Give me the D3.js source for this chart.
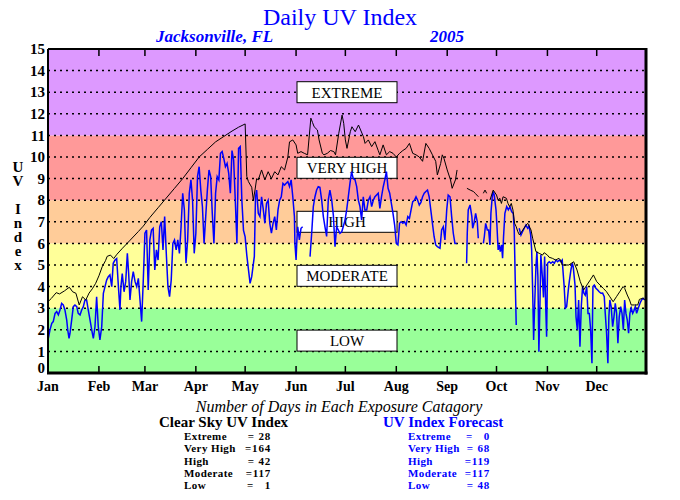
<!DOCTYPE html>
<html>
<head>
<meta charset="utf-8">
<script src="https://cdn.jsdelivr.net/npm/d3@7"></script>
<style>
  body { margin: 0; background: #fff; }
  text { font-family: "Liberation Serif", "Times New Roman", serif; }
</style>
</head>
<body>
<div id="chart"></div>
<script>
// --- data ---
const months = ["Jan", "Feb", "Mar", "Apr", "May", "Jun", "Jul", "Aug", "Sep", "Oct", "Nov", "Dec"];
const monthStart = [0, 31, 59, 90, 120, 151, 181, 212, 243, 273, 304, 334];

const bandLimits = [0, 3, 6, 8, 11, 15];
const bandNames = ["LOW", "MODERATE", "HIGH", "VERY HIGH", "EXTREME"];

const countNames = ["Extreme", "Very High", "High", "Moderate", "Low"];
const clearCounts = ["= 28", "=164", "= 42", "=117", "=   1"];
const forecastCounts = ["=   0", "= 68", "=119", "=117", "= 48"];

// [day of year, UV]; null breaks the line
const clearSky = [
  [0,3.3],[2,3.45],[5,3.72],[7,3.66],[10,3.8],[13,3.97],[15,3.76],[17,3.69],[19,3.15],[21,3.53],
  [23,3.38],[25,3.7],[27,3.9],[29,4.15],[31,4.5],[33,4.92],[35,5.2],[36,5.4],[38,5.46],[40,5.3],
  [42,5.5],[45,5.75],[50,6.15],[55,6.55],[58,6.8],[62,7.2],[67,7.65],[72,8.1],[77,8.55],[82,9.0],
  [87,9.5],[92,10.0],[97,10.35],[102,10.7],[107,10.95],[112,11.2],[116,11.38],[120,11.53],
  [121,9.1],[122,8.86],[124,8.6],[125,8.0],[126,8.47],[127,9.0],[128,8.94],[130,9.4],[132,8.94],
  [134,9.32],[136,9.0],[138,9.32],[140,9.17],[142,9.55],[144,9.4],[146,10.0],[147,10.7],[149,10.79],
  [151,10.56],[152,10.17],[154,10.25],[156,10.17],[158,10.1],[160,11.8],[161,11.6],[162,11.4],
  [164,11.25],[165,10.79],[167,10.17],[168,10.1],[170,10.17],[172,10.3],[174,10.25],[175,10.1],
  [177,11.1],[179,11.94],[180,11.56],[181,10.79],[182,10.4],[184,11.17],[185,11.4],[187,11.17],
  [189,11.48],[192,10.94],[193,10.63],[195,10.79],[197,10.48],[199,10.71],[201,10.3],[202,10.1],
  [204,10.56],[206,10.1],[208,10.25],[210,10.17],[212,10.0],[214,10.17],[216,10.3],[218,10.4],
  [220,10.63],[222,10.17],[224,10.1],[226,10.0],[228,9.8],[230,10.63],[232,10.4],[234,10.1],
  [236,9.8],[237,9.17],[239,9.7],[240,10.1],[241,9.94],[243,9.4],[245,8.94],[246,8.55],[248,8.94],
  [249,9.4],[250,null],
  [255,8.55],[257,8.47],[259,8.4],[260,8.32],[262,8.16],[263,null],
  [265,8.32],[266,8.47],[267,8.32],[268,null],
  [269,8.0],[271,8.47],[273,8.24],[274,8.0],[275,8.09],[276,7.85],[277,8.16],[279,8.09],[280,7.85],
  [281,7.7],[282,7.85],[283,7.55],[284,6.93],[285,6.77],[286,6.54],[287,6.39],[289,6.62],[291,6.85],
  [292,6.93],[294,6.62],[295,6.24],[296,5.93],[297,5.62],[299,5.54],[301,5.46],[302,5.57],[304,5.46],
  [305,5.36],[307,5.31],[309,5.23],[311,5.31],[312,5.23],[313,5.0],[315,5.0],[317,5.0],[320,5.15],
  [322,4.77],[324,4.23],[326,3.84],[328,4.07],[330,4.3],[332,4.54],[334,4.23],[336,4.07],[338,3.92],
  [340,3.76],[342,3.53],[344,3.3],[346,3.53],[348,3.76],[350,4.0],[351,3.92],[352.6,3.61],[354,3.38],
  [355,3.15],[357,3.15],[359,3.15],[360,3.41],[362,3.46],[363,3.41]
];

const forecast = [
  [0.2,1.6],[1.2,2.0],[2.3,2.3],[3.2,2.38],[4.3,2.76],[5.3,2.84],[6.3,2.69],[7.3,2.92],[8.3,3.22],
  [9.3,3.15],[10.3,2.92],[11.4,2.45],[12,2.0],[12.8,1.6],[13.4,1.84],[14.4,2.45],[15.4,3.07],
  [16.4,3.15],[17.5,3.07],[18.4,2.76],[19.5,2.69],[20.5,2.92],[21.5,3.07],[22.5,3.38],[23.5,3.38],
  [24.5,2.92],[25.6,2.45],[26.6,2.0],[27.6,1.6],[28.6,2.14],[29.6,3.53],[30.6,2.14],[31.6,1.53],
  [32.7,2.14],[33.7,3.69],[34.7,4.0],[35.7,4.3],[36.7,4.46],[37.7,4.54],[38.8,4.0],[39.7,5.08],
  [40.8,5.23],[41.8,5.3],[42.8,4.07],[43.8,2.92],[44.4,4.0],[45.2,4.6],[46.3,3.76],[47.3,4.23],
  [48.3,5.54],[49.1,4.6],[49.9,3.38],[50.9,4.23],[51.9,4.69],[53,4.23],[54,4.0],[55,4.38],[56,3.38],
  [57,2.38],[58,4.3],[59,6.47],[60,6.62],[61,3.84],[62,6.16],[63,6.62],[64,6.7],[65,4.77],[66,5.7],
  [67,5.23],[68,6.77],[69,7.0],[70,5.7],[71,7.24],[72,5.54],[73,4.0],[74,3.53],[75,4.3],[76,6.0],
  [77,6.16],[78,5.7],[79,6.16],[80,5.54],[81,6.77],[82,8.32],[83,7.55],[84,5.08],[85,6.16],[86,8.32],
  [87,8.94],[88,8.0],[89,5.54],[90,6.47],[91,9.09],[92,9.55],[93,8.47],[94,7.7],[95,6.0],[96,7.24],
  [97,8.47],[98,9.4],[99,9.09],[100,7.39],[101,6.0],[102,8.32],[103,9.09],[104,8.94],[105,10.17],
  [106,10.25],[107,9.94],[108,9.55],[109,9.7],[110,9.24],[111,8.32],[112,10.3],[113,9.86],[114,8.0],
  [115,6.0],[116,10.4],[117,10.48],[118,8.0],[119,6.6],[120,6.3],[121,5.46],[123,4.15],[124,4.46],
  [125.6,5.4],[126.3,8.16],[127,8.47],[128,7.39],[129,7.24],[130,8.16],[131,7.6],[132,6.93],
  [133,7.85],[134,8.0],[135,6.93],[136,6.47],[137,6.93],[138,7.24],[139,6.62],[140,7.55],[141,8.0],
  [142,8.16],[143,8.78],[144,8.7],[145,8.78],[146,8.86],[147,8.63],[148,8.94],[149,8.16],[150,7.24],
  [150.3,6.0],[151,5.23],[151.5,6.16],[152,6.77],[153,6.16],[154,6.7],[155,6.77],[156,null],
  [159.5,5.39],[160.5,6.47],[161.5,7.7],[162.5,8.16],[163.5,8.47],[164.5,8.63],[165.5,8.6],
  [166.6,8.0],[167.6,7.24],[168.6,6.77],[169.6,6.32],[170.6,8.0],[171.6,8.47],[172.7,8.0],[173.7,7.3],
  [174.7,5.85],[175.7,6.77],[176.7,6.62],[177.7,6.47],[178.8,6.54],[179.7,6.77],[180.8,7.08],
  [181.8,7.55],[182.8,8.16],[183.8,8.78],[184.8,9.32],[185.8,9.0],[186.9,8.94],[187.9,8.63],
  [188.9,8.0],[189.9,7.7],[190.9,7.08],[191.9,8.16],[192.9,7.55],[194,7.55],[195,8.0],[196,8.16],
  [197,7.7],[198,8.0],[199,8.16],[200,8.24],[201,8.32],[202,7.62],[203,8.16],[204,8.6],[205,8.94],
  [206,9.32],[207,8.55],[208,8.32],[209,7.85],[210,7.39],[211,6.85],[212,6.0],[213,5.93],[214,6.93],
  [215,7.0],[216,6.93],[217,7.0],[218,6.85],[219,7.24],[220,7.16],[221,7.55],[222,7.93],[223,8.0],
  [224,8.16],[225,8.0],[226,7.78],[227,7.9],[228,8.16],[229,8.32],[230,8.4],[231,8.47],[232,8.16],
  [233,7.55],[234,6.93],[235,6.32],[236,5.93],[237,5.85],[238.6,5.78],[239.6,6.62],[240.6,6.77],
  [241.6,6.16],[242.7,7.55],[243.6,8.24],[244.7,8.16],[245.7,7.24],[246.7,6.47],[247.7,6.0],
  [248.7,6.0],[250,null],
  [254.8,5.08],[255.2,6.47],[255.8,7.55],[256.9,7.78],[258,7.24],[258.5,6.7],[259.3,6.93],
  [260.3,7.39],[261.3,7.0],[261.9,6.24],[263,null],
  [265,6.0],[265.6,6.32],[266.4,6.93],[267.4,6.62],[268.2,6.62],[269,5.93],[269.6,7.39],[270.4,8.16],
  [271,8.4],[271.6,8.24],[272.7,7.55],[273.3,6.77],[274,5.7],[274.7,5.93],[275.3,5.62],[276.1,5.93],
  [276.7,5.31],[277.3,6.32],[278.1,7.39],[279.2,7.7],[280.2,7.55],[281.2,7.7],[282.2,7.47],
  [283.2,7.39],[283.8,6.62],[284.4,4.3],[285,2.22],[286,null],
  [286.8,6.7],[287.9,6.39],[288.9,6.55],[289.9,6.7],[290.9,6.85],[292,6.7],[292.8,6.8],[293.8,6.39],
  [294.4,5.7],[295,3.84],[295.6,1.53],[296.2,3.07],[297,4.92],[297.6,5.62],[298.2,4.46],[298.8,0.99],
  [299.5,3.38],[300,5.46],[300.9,4.46],[301.6,3.5],[302.3,5.39],[302.9,3.22],[303.5,1.68],
  [304.1,5.08],[305.1,5.15],[306.1,5.08],[307.2,5.15],[308.2,5.08],[309.2,5.23],[310.2,5.15],
  [311.2,5.23],[312.2,5.15],[313,5.23],[313.6,4.6],[314.2,4.0],[314.9,3.0],[315.7,3.07],[316.7,3.84],
  [317.3,4.23],[318.3,4.77],[319.1,5.08],[319.7,4.92],[320.8,4.07],[321.4,2.6],[322.2,2.0],[323,3.38],
  [323.8,1.22],[324.6,3.07],[325.4,4.0],[326.2,3.69],[327,3.6],[327.9,4.0],[328.7,2.76],[329.5,2.76],
  [330.3,2.0],[331.1,0.45],[331.7,4.0],[332.5,4.07],[333.5,3.92],[334.6,3.84],[335.5,3.76],
  [336.6,3.69],[337.6,3.7],[338.6,3.53],[339.2,2.76],[340,1.84],[340.8,0.45],[341.4,2.6],[342,3.38],
  [342.8,3.07],[343.7,2.14],[344.5,2.6],[345.3,3.22],[346.1,2.76],[346.9,1.38],[347.7,2.6],
  [348.6,3.07],[349.4,2.76],[350.2,2.0],[351,3.38],[351.8,2.76],[352.6,2.45],[353.4,1.84],
  [354.2,2.76],[355,3.0],[355.9,2.76],[356.7,2.9],[357.5,3.07],[358.3,2.76],[359.3,3.0],[360.3,3.22],
  [361.3,3.38],[362.3,3.46],[363.3,3.38]
];

// --- layout ---
const width = 680, height = 500;
const plotLeft = 48, plotRight = 646, plotTop = 49, plotBottom = 373;
const bandColors = ["#99ff99", "#ffff99", "#ffcc99", "#ff9999", "#dd99ff"];
const blue = "#0000ff";

const x = d3.scaleLinear().domain([0, 364]).range([plotLeft, plotRight]);
const y = d3.scaleLinear().domain([0, 15]).range([plotBottom, plotTop]);

const svg = d3.select("#chart")
    .append("svg")
    .attr("width", width)
    .attr("height", height);

// --- exposure bands ---
svg.selectAll(".band")
    .data(bandNames)
    .enter()
    .append("rect")
    .attr("class", "band")
    .attr("x", plotLeft)
    .attr("width", plotRight - plotLeft)
    .attr("y", (d, i) => y(bandLimits[i + 1]))
    .attr("height", (d, i) => y(bandLimits[i]) - y(bandLimits[i + 1]))
    .attr("fill", (d, i) => bandColors[i]);

// dotted grid
svg.selectAll(".grid")
    .data(d3.range(1, 15))
    .enter()
    .append("line")
    .attr("x1", plotLeft)
    .attr("x2", plotRight)
    .attr("y1", d => y(d))
    .attr("y2", d => y(d))
    .attr("stroke", "#000")
    .attr("stroke-width", 1.5)
    .attr("stroke-dasharray", "2,4");

// category boxes
const boxW = 100, boxH = 21;
const boxes = svg.selectAll(".box")
    .data(bandNames)
    .enter()
    .append("g")
    .attr("transform", (d, i) => `translate(${x(182)},${y((bandLimits[i] + bandLimits[i + 1]) / 2)})`);

boxes.append("rect")
    .attr("x", -boxW / 2)
    .attr("y", -boxH / 2)
    .attr("width", boxW)
    .attr("height", boxH)
    .attr("fill", "#fff")
    .attr("stroke", "#000");

boxes.append("text")
    .attr("text-anchor", "middle")
    .attr("dy", "0.36em")
    .style("font-size", "15px")
    .text(d => d);

// --- series ---
const line = d3.line()
    .defined(d => d[1] != null)
    .x(d => x(d[0]))
    .y(d => y(d[1]));

svg.append("path")
    .datum(forecast)
    .attr("d", line)
    .attr("fill", "none")
    .attr("stroke", blue)
    .attr("stroke-width", 1.5);

svg.append("path")
    .datum(clearSky)
    .attr("d", line)
    .attr("fill", "none")
    .attr("stroke", "#000")
    .attr("stroke-width", 1);

// --- frame and month ticks ---
svg.selectAll(".tickTop")
    .data(monthStart.slice(1))
    .enter()
    .append("line")
    .attr("x1", d => x(d)).attr("x2", d => x(d))
    .attr("y1", plotTop).attr("y2", plotTop + 7)
    .attr("stroke", "#000").attr("stroke-width", 1.5);

svg.selectAll(".tickBottom")
    .data(monthStart.slice(1))
    .enter()
    .append("line")
    .attr("x1", d => x(d)).attr("x2", d => x(d))
    .attr("y1", plotBottom).attr("y2", plotBottom - 7)
    .attr("stroke", "#000").attr("stroke-width", 1.5);

svg.append("line").attr("x1", plotLeft).attr("x2", plotRight).attr("y1", plotTop).attr("y2", plotTop)
    .attr("stroke", "#000").attr("stroke-width", 2);
svg.append("line").attr("x1", plotLeft).attr("x2", plotLeft).attr("y1", plotTop).attr("y2", plotBottom)
    .attr("stroke", "#000").attr("stroke-width", 2);
svg.append("line").attr("x1", plotRight).attr("x2", plotRight).attr("y1", plotTop - 1).attr("y2", plotBottom + 1.5)
    .attr("stroke", "#000").attr("stroke-width", 3);
svg.append("line").attr("x1", plotLeft - 1).attr("x2", plotRight + 1.5).attr("y1", plotBottom).attr("y2", plotBottom)
    .attr("stroke", "#000").attr("stroke-width", 3);

// --- axis labels ---
// the 0 label sits a little above the axis line, as in the original
svg.selectAll(".ylab")
    .data(d3.range(0, 16))
    .enter()
    .append("text")
    .attr("x", 45)
    .attr("y", d => d === 0 ? y(d) - 5 : y(d))
    .attr("dy", "0.35em")
    .attr("text-anchor", "end")
    .style("font-size", "15px")
    .style("font-weight", "bold")
    .text(d => d);

svg.selectAll(".mlab")
    .data(months)
    .enter()
    .append("text")
    .attr("x", (d, i) => x(monthStart[i]))
    .attr("y", 391)
    .attr("text-anchor", "middle")
    .style("font-size", "14px")
    .style("font-weight", "bold")
    .text(d => d);

// stacked axis title, written vertically as one run
svg.append("text")
    .attr("x", 18)
    .attr("y", 159)
    .style("writing-mode", "vertical-rl")
    .style("text-orientation", "upright")
    .style("letter-spacing", "-2px")
    .style("font-size", "15px")
    .style("font-weight", "bold")
    .text("UV Index");

// --- titles ---
svg.append("text")
    .attr("x", 340).attr("y", 25)
    .attr("text-anchor", "middle")
    .attr("fill", blue)
    .style("font-size", "24px")
    .text("Daily UV Index");

svg.append("text")
    .attr("x", 156).attr("y", 42)
    .attr("fill", blue)
    .style("font-size", "17px")
    .style("font-weight", "bold")
    .style("font-style", "italic")
    .text("Jacksonville, FL");

svg.append("text")
    .attr("x", 430).attr("y", 42)
    .attr("fill", blue)
    .style("font-size", "17px")
    .style("font-weight", "bold")
    .style("font-style", "italic")
    .text("2005");

// --- day counts ---
svg.append("text")
    .attr("x", 339).attr("y", 412)
    .attr("text-anchor", "middle")
    .style("font-size", "16px")
    .style("font-style", "italic")
    .text("Number of Days in Each Exposure Catagory");

function countBlock(x0, xv, title, values, fill) {
    svg.append("text")
        .attr("x", x0 - 25).attr("y", 427)
        .attr("fill", fill)
        .style("font-size", "15px")
        .style("font-weight", "bold")
        .text(title);

    countNames.forEach((name, i) => {
        svg.append("text")
            .attr("x", x0).attr("y", 440 + i * 12.3)
            .attr("fill", fill)
            .style("font-size", "11px")
            .style("font-weight", "bold")
            .style("letter-spacing", "0.4px")
            .text(name);
        svg.append("text")
            .attr("x", xv).attr("y", 440 + i * 12.3)
            .attr("text-anchor", "end")
            .attr("fill", fill)
            .style("font-size", "11px")
            .style("font-weight", "bold")
            .style("letter-spacing", "0.8px")
            .style("white-space", "pre")
            .text(values[i]);
    });
}

countBlock(184, 271, "Clear Sky UV Index", clearCounts, "#000");
countBlock(408, 490, "UV Index Forecast", forecastCounts, blue);
</script>
</body>
</html>
